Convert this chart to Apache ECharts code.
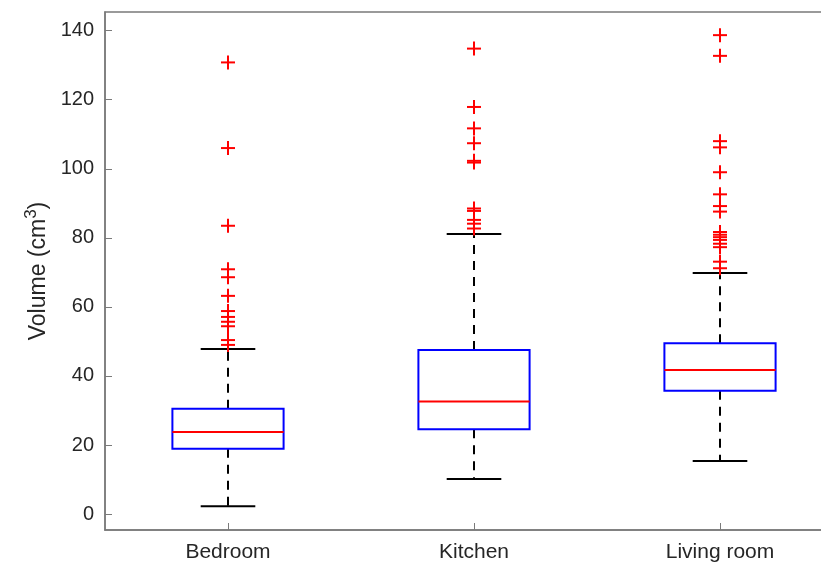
<!DOCTYPE html>
<html>
<head>
<meta charset="utf-8">
<title>Volume by room</title>
<script src="https://cdn.jsdelivr.net/npm/echarts@6/dist/echarts.min.js"></script>
<style>
  html, body { margin: 0; padding: 0; background: #ffffff; }
  #chart { width: 821px; height: 564px; }
</style>
</head>
<body>
<div id="chart"></div>
<script>
// Rooms on the x axis
const categories = ['Bedroom', 'Kitchen', 'Living room'];

// Box statistics per room (cm^3)
const whiskerLow  = [2.3, 10.2, 15.4];
const quartile1   = [18.9, 24.6, 35.7];
const medians     = [23.8, 32.6, 41.7];
const quartile3   = [30.5, 47.5, 49.5];
const whiskerHigh = [47.8, 81.1, 69.8];

// Outliers per room
const outliersBedroom = [130.8, 106.0, 83.5, 70.9, 68.6, 63.2, 58.8, 57.1, 55.7, 54.4, 50.4, 49.0];
const outliersKitchen = [134.8, 117.9, 111.7, 107.4, 102.3, 101.8, 88.5, 87.8, 85.2, 84.1, 82.7];
const outliersLiving  = [138.7, 132.7, 108.0, 106.2, 99.0, 92.6, 89.2, 87.6, 81.7, 80.9, 80.2, 79.4, 78.3, 77.3, 73.1, 71.2];

// Y-axis tick values
const yTicks = [0, 20, 40, 60, 80, 100, 120, 140];

const boxData = categories.map((c, i) =>
  [i, whiskerLow[i], quartile1[i], medians[i], quartile3[i], whiskerHigh[i]]);

const outlierData = [];
[outliersBedroom, outliersKitchen, outliersLiving].forEach((list, i) => {
  list.forEach(v => outlierData.push([i, v]));
});

const FONT = "'Liberation Sans', Arial, Helvetica, sans-serif";
const AXIS_GRAY = '#7a7a7a';
const TEXT = '#262626';

function renderBox(params, api) {
  const idx = api.value(0);
  const band = api.size([1, 0])[0];
  const half = band * 0.226;
  const capHalf = band * 0.111;
  const pLow = api.coord([idx, api.value(1)]);
  const pQ1 = api.coord([idx, api.value(2)]);
  const pMed = api.coord([idx, api.value(3)]);
  const pQ3 = api.coord([idx, api.value(4)]);
  const pHigh = api.coord([idx, api.value(5)]);
  const cx = pMed[0];
  const dashed = { stroke: '#000000', lineWidth: 2, lineDash: [9, 7] };
  const solid = { stroke: '#000000', lineWidth: 2 };
  return {
    type: 'group',
    children: [
      { type: 'line', shape: { x1: cx, y1: pQ3[1], x2: cx, y2: pHigh[1] }, style: dashed },
      { type: 'line', shape: { x1: cx, y1: pQ1[1], x2: cx, y2: pLow[1] }, style: dashed },
      { type: 'line', shape: { x1: cx - capHalf, y1: pHigh[1], x2: cx + capHalf, y2: pHigh[1] }, style: solid },
      { type: 'line', shape: { x1: cx - capHalf, y1: pLow[1], x2: cx + capHalf, y2: pLow[1] }, style: solid },
      { type: 'rect', shape: { x: cx - half, y: pQ3[1], width: half * 2, height: pQ1[1] - pQ3[1] },
        style: { fill: null, stroke: '#0000ff', lineWidth: 2 } },
      { type: 'line', shape: { x1: cx - half, y1: pMed[1], x2: cx + half, y2: pMed[1] },
        style: { stroke: '#ff0000', lineWidth: 2 } }
    ]
  };
}

function renderPlus(params, api) {
  const p = api.coord([api.value(0), api.value(1)]);
  const s = 7;
  const st = { stroke: '#ff0000', lineWidth: 2 };
  return {
    type: 'group',
    children: [
      { type: 'line', shape: { x1: p[0] - s, y1: p[1], x2: p[0] + s, y2: p[1] }, style: st },
      { type: 'line', shape: { x1: p[0], y1: p[1] - s, x2: p[0], y2: p[1] + s }, style: st }
    ]
  };
}

const chart = echarts.init(document.getElementById('chart'), null, { renderer: 'canvas' });
chart.setOption({
  animation: false,
  backgroundColor: '#ffffff',
  textStyle: { fontFamily: FONT },
  grid: {
    left: 105, top: 12, width: 738, height: 518,
    outerBoundsMode: 'none',
    containLabel: false,
    show: true, borderColor: AXIS_GRAY, borderWidth: 1.5, backgroundColor: 'transparent'
  },
  xAxis: {
    type: 'category',
    data: categories,
    boundaryGap: true,
    axisLine: { show: true, onZero: false, lineStyle: { color: AXIS_GRAY, width: 1.5 } },
    axisTick: { show: true, inside: true, alignWithLabel: true, length: 7, lineStyle: { color: AXIS_GRAY, width: 1 } },
    axisLabel: { color: TEXT, fontSize: 21, fontFamily: FONT, margin: 12 },
    splitLine: { show: false }
  },
  yAxis: {
    type: 'value',
    min: -4.6,
    max: 145.4,
    name: 'Volume (cm{sup|3})',
    nameLocation: 'middle',
    nameGap: 46,
    nameRotate: 90,
    nameTextStyle: {
      color: TEXT, fontSize: 23, fontFamily: FONT,
      rich: { sup: { fontSize: 17, fontFamily: FONT, color: TEXT, padding: [0, 0, 14, 0] } }
    },
    axisLine: { show: true, onZero: false, lineStyle: { color: AXIS_GRAY, width: 1.5 } },
    axisTick: { show: true, inside: true, length: 7, customValues: yTicks, lineStyle: { color: AXIS_GRAY, width: 1 } },
    axisLabel: { color: TEXT, fontSize: 20, fontFamily: FONT, margin: 11, customValues: yTicks },
    splitLine: { show: false }
  },
  series: [
    {
      type: 'custom',
      name: 'boxes',
      renderItem: renderBox,
      encode: { x: 0, y: [1, 2, 3, 4, 5] },
      data: boxData,
      z: 2
    },
    {
      type: 'custom',
      name: 'outliers',
      renderItem: renderPlus,
      encode: { x: 0, y: 1 },
      data: outlierData,
      z: 3
    }
  ]
});
</script>
</body>
</html>
